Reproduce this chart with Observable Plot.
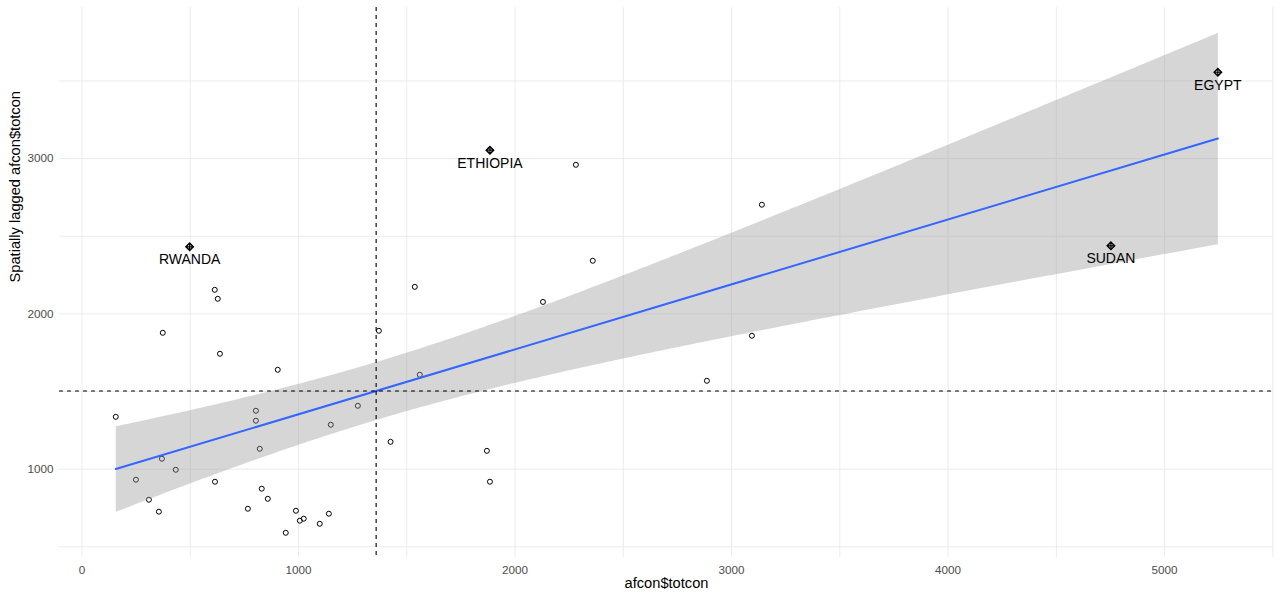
<!DOCTYPE html>
<html>
<head>
<meta charset="utf-8">
<script src="https://cdn.jsdelivr.net/npm/d3@7"></script>
<script src="https://cdn.jsdelivr.net/npm/@observablehq/plot@0.6"></script>
<style>
  html, body { margin: 0; padding: 0; background: #ffffff; }
  #chart { width: 1280px; height: 602px; }
</style>
</head>
<body>
<div id="chart"></div>
<script>
// Values
const totcon = [156, 249, 309, 355, 369, 373, 433, 497, 613, 614, 627, 637, 766, 803, 803, 821, 830, 858, 904, 941,
  988, 1006, 1024, 1098, 1140, 1149, 1274, 1371, 1425, 1537, 1560, 1870, 1884, 1884, 2129, 2281, 2359, 2886, 3094, 3140,
  4752, 5246];
const lagged = [1337, 932, 803, 726, 1067, 1878, 996, 2432, 2155, 919, 2097, 1743, 745, 1376, 1312, 1131, 874, 809, 1640, 590,
  732, 668, 681, 648, 713, 1286, 1408, 1891, 1176, 2174, 1608, 1118, 919, 3054, 2077, 2960, 2342, 1569, 1859, 2703,
  2438, 3556];
const labels = ["", "", "", "", "", "", "", "RWANDA", "", "", "", "", "", "", "", "", "", "", "", "",
  "", "", "", "", "", "", "", "", "", "", "", "", "", "ETHIOPIA", "", "", "", "", "", "",
  "SUDAN", "EGYPT"];
const xTicks = [0, 1000, 2000, 3000, 4000, 5000];
const yTicks = [1000, 2000, 3000];
const xGrid = [0, 500, 1000, 1500, 2000, 2500, 3000, 3500, 4000, 4500, 5000, 5500];
const yGrid = [500, 1000, 1500, 2000, 2500, 3000, 3500];
const xTitle = "afcon$totcon";
const yTitle = "Spatially lagged afcon$totcon";

const data = totcon.map((x, i) => ({x, y: lagged[i], label: labels[i]}));
const infl = data.filter(d => d.label !== "");

const chart = Plot.plot({
  width: 1280,
  height: 602,
  marginLeft: 59,
  marginRight: 7,
  marginTop: 7,
  marginBottom: 45,
  style: {fontFamily: "'Liberation Sans', Arial, sans-serif", background: "#ffffff", overflow: "visible"},
  x: {domain: [-104, 5503]},
  y: {domain: [431, 3973]},
  marks: [
    Plot.gridX(xGrid, {stroke: "#EBEBEB", strokeOpacity: 1, strokeWidth: 1}),
    Plot.gridY(yGrid, {stroke: "#EBEBEB", strokeOpacity: 1, strokeWidth: 1}),
    Plot.axisX({ticks: xTicks, tickFormat: d3.format("d"), tickSize: 0, tickPadding: 8, fontSize: 11.7, fill: "#4D4D4D", label: null}),
    Plot.axisY({ticks: yTicks, tickFormat: d3.format("d"), tickSize: 0, tickPadding: 6, fontSize: 11.7, fill: "#4D4D4D", label: null}),
    Plot.dot(data, {x: "x", y: "y", r: 2.5, stroke: "black", strokeWidth: 1, fill: "none"}),
    Plot.linearRegressionY(data, {x: "x", y: "y", stroke: "#3366FF", strokeWidth: 2, fill: "#999999", fillOpacity: 0.4}),
    Plot.ruleY([d3.mean(lagged)], {stroke: "black", strokeWidth: 1.1, strokeDasharray: "4,4"}),
    Plot.ruleX([d3.mean(totcon)], {stroke: "black", strokeWidth: 1.1, strokeDasharray: "4,4"}),
    Plot.dot(infl, {x: "x", y: "y", symbol: "diamond2", r: 3.5, stroke: "black", strokeWidth: 1.2, fill: "none"}),
    Plot.dot(infl, {x: "x", y: "y", symbol: "plus", r: 2.6, stroke: "black", strokeWidth: 1.2}),
    Plot.text(infl, {x: "x", y: "y", text: "label", dy: 13, fontSize: 14, fill: "black"}),
    Plot.text([xTitle], {frameAnchor: "bottom", dy: 30, fontSize: 14.67, fill: "black"}),
    Plot.text([yTitle], {frameAnchor: "left", dx: -44, rotate: -90, fontSize: 14.67, fill: "black"})
  ]
});
document.getElementById("chart").appendChild(chart);
</script>
</body>
</html>
